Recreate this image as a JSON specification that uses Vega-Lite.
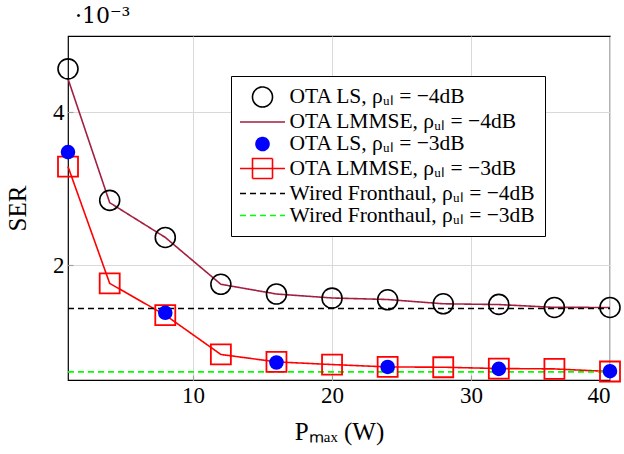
{
  "$schema": "https://vega.github.io/schema/vega-lite/v6.json",
  "width": 542,
  "height": 344,
  "autosize": {"type": "none"},
  "padding": {"left": 68, "top": 36, "right": 14, "bottom": 74},
  "background": "white",
  "title": {"text": "·10⁻³", "anchor": "start", "frame": "group", "font": "DejaVu Serif", "fontSize": 22, "fontWeight": "normal", "color": "black", "offset": 8, "dx": 7},
  "config": {
    "view": {"stroke": "black", "strokeWidth": 1.2},
    "axis": {"labelFont": "Liberation Serif", "titleFont": "Liberation Serif", "labelColor": "black", "titleColor": "black", "titleFontWeight": "normal", "domain": false, "gridColor": "#d9d9d9", "gridWidth": 1, "tickColor": "#a0a0a0", "tickSize": -5, "tickWidth": 1.2},
    "legend": {"labelFont": "Liberation Serif", "labelFontSize": 21.5, "labelColor": "black"}
  },
  "datasets": {
    "ser": [
      {"series": "OTA LS, ρᵤₗ = −4dB", "x": 1, "y": 0.00457},
      {"series": "OTA LS, ρᵤₗ = −4dB", "x": 4, "y": 0.00285},
      {"series": "OTA LS, ρᵤₗ = −4dB", "x": 8, "y": 0.002365},
      {"series": "OTA LS, ρᵤₗ = −4dB", "x": 12, "y": 0.001752},
      {"series": "OTA LS, ρᵤₗ = −4dB", "x": 16, "y": 0.001625},
      {"series": "OTA LS, ρᵤₗ = −4dB", "x": 20, "y": 0.001571},
      {"series": "OTA LS, ρᵤₗ = −4dB", "x": 24, "y": 0.001549},
      {"series": "OTA LS, ρᵤₗ = −4dB", "x": 28, "y": 0.001497},
      {"series": "OTA LS, ρᵤₗ = −4dB", "x": 32, "y": 0.001489},
      {"series": "OTA LS, ρᵤₗ = −4dB", "x": 36, "y": 0.001449},
      {"series": "OTA LS, ρᵤₗ = −4dB", "x": 40, "y": 0.001449},
      {"series": "OTA LMMSE, ρᵤₗ = −4dB", "x": 1, "y": 0.00444},
      {"series": "OTA LMMSE, ρᵤₗ = −4dB", "x": 4, "y": 0.00282},
      {"series": "OTA LMMSE, ρᵤₗ = −4dB", "x": 8, "y": 0.002365},
      {"series": "OTA LMMSE, ρᵤₗ = −4dB", "x": 12, "y": 0.001752},
      {"series": "OTA LMMSE, ρᵤₗ = −4dB", "x": 16, "y": 0.001625},
      {"series": "OTA LMMSE, ρᵤₗ = −4dB", "x": 20, "y": 0.001573},
      {"series": "OTA LMMSE, ρᵤₗ = −4dB", "x": 24, "y": 0.001553},
      {"series": "OTA LMMSE, ρᵤₗ = −4dB", "x": 28, "y": 0.001497},
      {"series": "OTA LMMSE, ρᵤₗ = −4dB", "x": 32, "y": 0.001487},
      {"series": "OTA LMMSE, ρᵤₗ = −4dB", "x": 36, "y": 0.00145},
      {"series": "OTA LMMSE, ρᵤₗ = −4dB", "x": 40, "y": 0.001449},
      {"series": "OTA LS, ρᵤₗ = −3dB", "x": 1, "y": 0.003481},
      {"series": "OTA LS, ρᵤₗ = −3dB", "x": 8, "y": 0.001379},
      {"series": "OTA LS, ρᵤₗ = −3dB", "x": 16, "y": 0.000729},
      {"series": "OTA LS, ρᵤₗ = −3dB", "x": 24, "y": 0.000671},
      {"series": "OTA LS, ρᵤₗ = −3dB", "x": 32, "y": 0.000645},
      {"series": "OTA LS, ρᵤₗ = −3dB", "x": 40, "y": 0.000615},
      {"series": "OTA LMMSE, ρᵤₗ = −3dB", "x": 1, "y": 0.003292},
      {"series": "OTA LMMSE, ρᵤₗ = −3dB", "x": 4, "y": 0.001764},
      {"series": "OTA LMMSE, ρᵤₗ = −3dB", "x": 8, "y": 0.001349},
      {"series": "OTA LMMSE, ρᵤₗ = −3dB", "x": 12, "y": 0.000834},
      {"series": "OTA LMMSE, ρᵤₗ = −3dB", "x": 16, "y": 0.000737},
      {"series": "OTA LMMSE, ρᵤₗ = −3dB", "x": 20, "y": 0.000702},
      {"series": "OTA LMMSE, ρᵤₗ = −3dB", "x": 24, "y": 0.000671},
      {"series": "OTA LMMSE, ρᵤₗ = −3dB", "x": 28, "y": 0.000667},
      {"series": "OTA LMMSE, ρᵤₗ = −3dB", "x": 32, "y": 0.00065},
      {"series": "OTA LMMSE, ρᵤₗ = −3dB", "x": 36, "y": 0.000645},
      {"series": "OTA LMMSE, ρᵤₗ = −3dB", "x": 40, "y": 0.000611},
      {"series": "Wired Fronthaul, ρᵤₗ = −4dB", "x": 1, "y": 0.001436},
      {"series": "Wired Fronthaul, ρᵤₗ = −4dB", "x": 40, "y": 0.001436},
      {"series": "Wired Fronthaul, ρᵤₗ = −3dB", "x": 1, "y": 0.000606},
      {"series": "Wired Fronthaul, ρᵤₗ = −3dB", "x": 40, "y": 0.000606}
    ]
  },
  "data": {"name": "ser"},
  "encoding": {
    "x": {"field": "x", "type": "quantitative", "scale": {"domain": [1, 40], "nice": false, "zero": false},
      "axis": {"values": [10, 20, 30, 40], "title": "Pₘₐₓ (W)", "labelFontSize": 23, "titleFontSize": 25, "labelPadding": 9, "titlePadding": 12}},
    "y": {"field": "y", "type": "quantitative", "scale": {"domain": [0.0005, 0.005], "nice": false, "zero": false},
      "axis": {"values": [0.002, 0.004], "labelExpr": "format(datum.value * 1000, 'd')", "title": "SER", "labelFontSize": 23, "titleFontSize": 25, "labelPadding": 9, "titlePadding": 22}}
  },
  "layer": [
    {
      "transform": [{"filter": "datum.series != 'OTA LS, ρᵤₗ = −4dB' && datum.series != 'OTA LS, ρᵤₗ = −3dB'"}],
      "mark": {"type": "line", "strokeWidth": 1.6},
      "encoding": {
        "stroke": {"field": "series", "type": "nominal",
          "scale": {"domain": ["OTA LS, ρᵤₗ = −4dB", "OTA LMMSE, ρᵤₗ = −4dB", "OTA LS, ρᵤₗ = −3dB", "OTA LMMSE, ρᵤₗ = −3dB", "Wired Fronthaul, ρᵤₗ = −4dB", "Wired Fronthaul, ρᵤₗ = −3dB"],
            "range": ["black", "#A31F3F", "blue", "red", "black", "#00ff00"]},
          "legend": {"title": null, "orient": "none", "legendX": 163, "legendY": 40, "padding": 10, "strokeColor": "black", "fillColor": "white", "symbolSize": 400, "symbolStrokeWidth": 1.6, "symbolOffset": 10.5, "labelOffset": 16, "rowPadding": -0.5, "labelLimit": 400}},
        "strokeDash": {"field": "series", "type": "nominal",
          "scale": {"domain": ["OTA LS, ρᵤₗ = −4dB", "OTA LMMSE, ρᵤₗ = −4dB", "OTA LS, ρᵤₗ = −3dB", "OTA LMMSE, ρᵤₗ = −3dB", "Wired Fronthaul, ρᵤₗ = −4dB", "Wired Fronthaul, ρᵤₗ = −3dB"],
            "range": [[1, 0], [1, 0], [1, 0], [1, 0], [6, 4], [6, 4]]},
          "legend": {"title": null}}
      }
    },
    {
      "transform": [{"filter": "datum.series == 'OTA LMMSE, ρᵤₗ = −3dB'"}],
      "mark": {"type": "point", "shape": "square", "size": 400, "filled": false, "strokeWidth": 1.8, "opacity": 1},
      "encoding": {
        "stroke": {"field": "series", "type": "nominal"}
      }
    },
    {
      "transform": [{"filter": "datum.series == 'OTA LS, ρᵤₗ = −4dB' || datum.series == 'OTA LS, ρᵤₗ = −3dB'"}],
      "mark": {"type": "point", "size": 400, "strokeWidth": 1.6, "opacity": 1},
      "encoding": {
        "stroke": {"field": "series", "type": "nominal"},
        "fill": {"field": "series", "type": "nominal",
          "scale": {"domain": ["OTA LS, ρᵤₗ = −4dB", "OTA LMMSE, ρᵤₗ = −4dB", "OTA LS, ρᵤₗ = −3dB", "OTA LMMSE, ρᵤₗ = −3dB", "Wired Fronthaul, ρᵤₗ = −4dB", "Wired Fronthaul, ρᵤₗ = −3dB"],
            "range": ["transparent", "transparent", "blue", "transparent", "transparent", "transparent"]},
          "legend": {"title": null}},
        "shape": {"field": "series", "type": "nominal",
          "scale": {"domain": ["OTA LS, ρᵤₗ = −4dB", "OTA LMMSE, ρᵤₗ = −4dB", "OTA LS, ρᵤₗ = −3dB", "OTA LMMSE, ρᵤₗ = −3dB", "Wired Fronthaul, ρᵤₗ = −4dB", "Wired Fronthaul, ρᵤₗ = −3dB"],
            "range": ["circle", "M-2.25,0H2.25", "M0.65,0A0.65,0.65,0,1,1,-0.65,0A0.65,0.65,0,1,1,0.65,0Z", "M-2.25,0H2.25M-1,-1H1V1H-1Z", "M-2.25,0H2.25", "M-2.25,0H2.25"]},
          "legend": {"title": null}}
      }
    }
  ]
}
